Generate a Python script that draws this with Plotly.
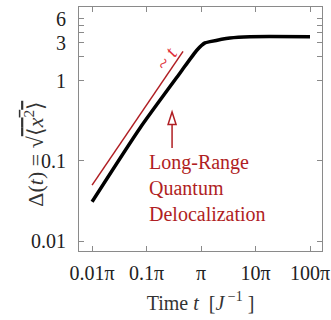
import numpy as np
import plotly.graph_objects as go

# data (time in units of pi)
t_over_pi = [0.01, 0.076, 0.412, 0.845, 1.18, 1.46, 3.39, 7.9, 100]
delta = [0.031, 0.259, 1.26, 2.44, 2.99, 3.1, 3.45, 3.58, 3.58]
fit_t_over_pi = [0.01, 0.467]
fit_delta = [0.05, 2.34]

xtick_vals = [0.01, 0.1, 1, 10, 100]
xtick_text = ["0.01π", "0.1π", "π", "10π", "100π"]
ytick_vals = [0.01, 0.1, 1, 2, 3, 4, 5, 6]
ytick_text = ["0.01", "0.1", "1", "", "3", "", "", "6"]

t = np.array(t_over_pi) * np.pi
tf = np.array(fit_t_over_pi) * np.pi

FONT = "Liberation Serif"
RED = "#b01e23"
NB = "\u00a0"

fig = go.Figure()
fig.add_trace(go.Scatter(x=tf, y=fit_delta, mode="lines",
                         line=dict(color=RED, width=1.5), showlegend=False))
fig.add_trace(go.Scatter(x=t, y=delta, mode="lines",
                         line=dict(color="black", width=3.5, shape="spline", smoothing=0.6),
                         showlegend=False))

axis_common = dict(type="log", showgrid=False, zeroline=False, showline=True,
                   linecolor="#8a8a8a", linewidth=1, mirror="allticks",
                   ticks="inside", ticklen=5, tickcolor="#8a8a8a", automargin=False,
                   tickfont=dict(family=FONT, size=20, color="#222"))

lp = np.log10(np.pi)
fig.update_xaxes(**axis_common,
                 range=[-2.24 + lp, 2.22 + lp],
                 tickvals=[v * np.pi for v in xtick_vals], ticktext=xtick_text,
                 ticklabelstandoff=4,
                 title=dict(text=f"Time{NB}<i>t</i>{NB}{NB}[<i>J</i><sup>{NB}−1</sup>{NB}]",
                            font=dict(family=FONT, size=20, color="#333"), standoff=12))
fig.update_yaxes(**axis_common,
                 range=[np.log10(0.0075), np.log10(8.4)],
                 tickvals=ytick_vals, ticktext=ytick_text,
                 ticklabelstandoff=8)

# y-axis title as rotated annotation (slightly below plot centre, as in the reference)
fig.add_annotation(xref="paper", yref="paper", x=-0.25, y=0.40, showarrow=False,
                   textangle=-90,
                   text=f"Δ(<i>t</i>){NB}={NB}√<span style='text-decoration:overline'>⟨<i>x</i><sup>2</sup>⟩</span>",
                   font=dict(family=FONT, size=22, color="#333"))

# arrow (line + hollow head)
ax0, ay0, ay1 = 0.383, 0.422, 0.518
fig.add_shape(type="line", xref="paper", yref="paper", x0=ax0, x1=ax0, y0=ay0, y1=ay1,
              line=dict(color=RED, width=1.5))
fig.add_shape(type="path", xref="paper", yref="paper",
              path=f"M {ax0-0.0165} {ay1} L {ax0+0.0165} {ay1} L {ax0} {ay1+0.052} Z",
              fillcolor="white", line=dict(color=RED, width=1.5))

fig.add_annotation(xref="paper", yref="paper", x=0.28, y=0.42, xanchor="left", yanchor="top",
                   align="left", showarrow=False,
                   text="Long-Range<br>Quantum<br>Delocalization",
                   font=dict(family=FONT, size=20, color=RED))
fig.add_annotation(xref="paper", yref="paper", x=0.36, y=0.865, showarrow=False,
                   text="~ <i>t</i>", textangle=-56,
                   font=dict(family=FONT, size=20, color="#e0303a"))

fig.update_layout(width=331, height=320, margin=dict(l=79, r=9, t=7, b=69),
                  paper_bgcolor="white", plot_bgcolor="white")
fig.write_html("out.html", post_script="document.body.style.margin='0';",
               config={"displayModeBar": False})
